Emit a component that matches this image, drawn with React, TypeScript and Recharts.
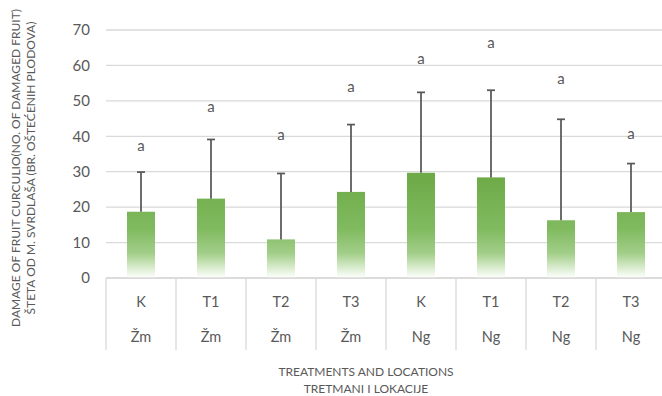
import React from "react";
import {
  ComposedChart,
  Bar,
  Line,
  XAxis,
  YAxis,
  CartesianGrid,
  LabelList,
} from "recharts";

// treatment and location for each column
const treatments = ["K", "T1", "T2", "T3", "K", "T1", "T2", "T3"];
const locations = ["Žm", "Žm", "Žm", "Žm", "Ng", "Ng", "Ng", "Ng"];

// mean number of damaged fruit and the + error
const damage = [18.7, 22.4, 10.9, 24.3, 29.7, 28.4, 16.3, 18.6];
const errorPlus = [11.2, 16.7, 18.6, 19.0, 22.7, 24.6, 28.5, 13.7];

// significance letters and the height they sit at
const letters = ["a", "a", "a", "a", "a", "a", "a", "a"];
const letterAt = [37, 48, 40, 53.5, 61.5, 66, 56, 40.5];

const yTicks = [0, 10, 20, 30, 40, 50, 60, 70];

const data = treatments.map((t, i) => ({
  id: i,
  damage: damage[i],
  err: errorPlus[i],
  letter: letters[i],
  letterAt: letterAt[i],
}));

const CHART_W = 680;
const CHART_H = 396;
const MARGIN = { top: 30, right: 14, bottom: 0, left: 0 };
const Y_AXIS_W = 106;
const X_AXIS_H = 118;
const PLOT_W = CHART_W - MARGIN.left - MARGIN.right - Y_AXIS_W;
const HALF_BAND = PLOT_W / data.length / 2;

const TEXT = "#595959";
const GRID = "#d9d9d9";
const FONT = "Lato, 'Liberation Sans', sans-serif";

function BarWithError(props: any) {
  const { x, y, width, height, payload } = props;
  if (!height) return null;
  const perUnit = height / payload.damage;
  const top = y - payload.err * perUnit;
  const cx = x + width / 2;
  return (
    <g>
      <rect x={x} y={y} width={width} height={height} fill="url(#barFade)" />
      <line x1={cx} y1={y} x2={cx} y2={top} stroke={TEXT} strokeWidth={1.75} />
      <line x1={cx - 4} y1={top} x2={cx + 4} y2={top} stroke={TEXT} strokeWidth={1.75} />
    </g>
  );
}

function CategoryTick(props: any) {
  const { x, y, index } = props;
  const last = index === data.length - 1;
  return (
    <g>
      <line x1={x - HALF_BAND} y1={y} x2={x - HALF_BAND} y2={y + 72} stroke={GRID} strokeWidth={1.3} />
      {last && (
        <line x1={x + HALF_BAND} y1={y} x2={x + HALF_BAND} y2={y + 72} stroke={GRID} strokeWidth={1.3} />
      )}
      <text x={x} y={y + 29} textAnchor="middle" fill={TEXT} fontSize={14.5} fontFamily={FONT}>
        {treatments[index]}
      </text>
      <text x={x} y={y + 64} textAnchor="middle" fill={TEXT} fontSize={14.5} fontFamily={FONT}>
        {locations[index]}
      </text>
    </g>
  );
}

function XTitle() {
  const cx = 366;
  return (
    <g fill={TEXT} fontSize={12} fontFamily={FONT}>
      <text x={cx} y={376} textAnchor="middle">TREATMENTS AND LOCATIONS</text>
      <text x={cx} y={393} textAnchor="middle">TRETMANI I LOKACIJE</text>
    </g>
  );
}

function YTitle() {
  const cy = 168;
  return (
    <g fill={TEXT} fontSize={12} fontFamily={FONT}>
      <text x={20} y={cy} textAnchor="middle" transform={`rotate(-90 20 ${cy})`}>
        DAMAGE OF FRUIT CURCULIO(NO. OF DAMAGED FRUIT)
      </text>
      <text x={35} y={cy} textAnchor="middle" transform={`rotate(-90 35 ${cy})`}>
        ŠTETA OD M. SVRDLAŠA (BR. OŠTEĆENIH PLODOVA)
      </text>
    </g>
  );
}

function LetterLabel(props: any) {
  const { x, y, value } = props;
  return (
    <text x={x} y={y} dy={4} textAnchor="middle" fill={TEXT} fontSize={15} fontFamily={FONT}>
      {value}
    </text>
  );
}

export default function App() {
  return (
    <div
      style={{
        position: "fixed",
        top: 0,
        left: 0,
        width: 662,
        height: CHART_H,
        overflow: "hidden",
        background: "#fff",
      }}
    >
      <ComposedChart width={CHART_W} height={CHART_H} data={data} margin={MARGIN} barCategoryGap="30%">
        <defs>
          <linearGradient id="barFade" gradientUnits="userSpaceOnUse" x1="0" y1="30" x2="0" y2="278">
            <stop offset="0" stopColor="#64a53e" />
            <stop offset="0.6" stopColor="#6eab48" />
            <stop offset="0.8" stopColor="#80ba5f" />
            <stop offset="0.9" stopColor="#a2ce89" />
            <stop offset="0.96" stopColor="#daedcf" />
            <stop offset="1" stopColor="#ffffff" />
          </linearGradient>
        </defs>
        <CartesianGrid vertical={false} stroke={GRID} strokeWidth={1.3} />
        <XAxis
          dataKey="id"
          type="category"
          height={X_AXIS_H}
          axisLine={{ stroke: GRID, strokeWidth: 1.3 }}
          tickLine={false}
          tickSize={0}
          tickMargin={0}
          interval={0}
          tick={<CategoryTick />}
          label={{ content: <XTitle /> }}
        />
        <YAxis
          width={Y_AXIS_W}
          domain={[0, 70]}
          ticks={yTicks}
          axisLine={false}
          tickLine={false}
          tickSize={0}
          tickMargin={16}
          tick={{ fill: TEXT, fontSize: 15, fontFamily: FONT }}
          label={{ content: <YTitle /> }}
        />
        <Bar dataKey="damage" shape={<BarWithError />} isAnimationActive={false} />
        <Line
          dataKey="letterAt"
          stroke="none"
          dot={false}
          activeDot={false}
          isAnimationActive={false}
        >
          <LabelList dataKey="letter" content={<LetterLabel />} />
        </Line>
      </ComposedChart>
    </div>
  );
}
